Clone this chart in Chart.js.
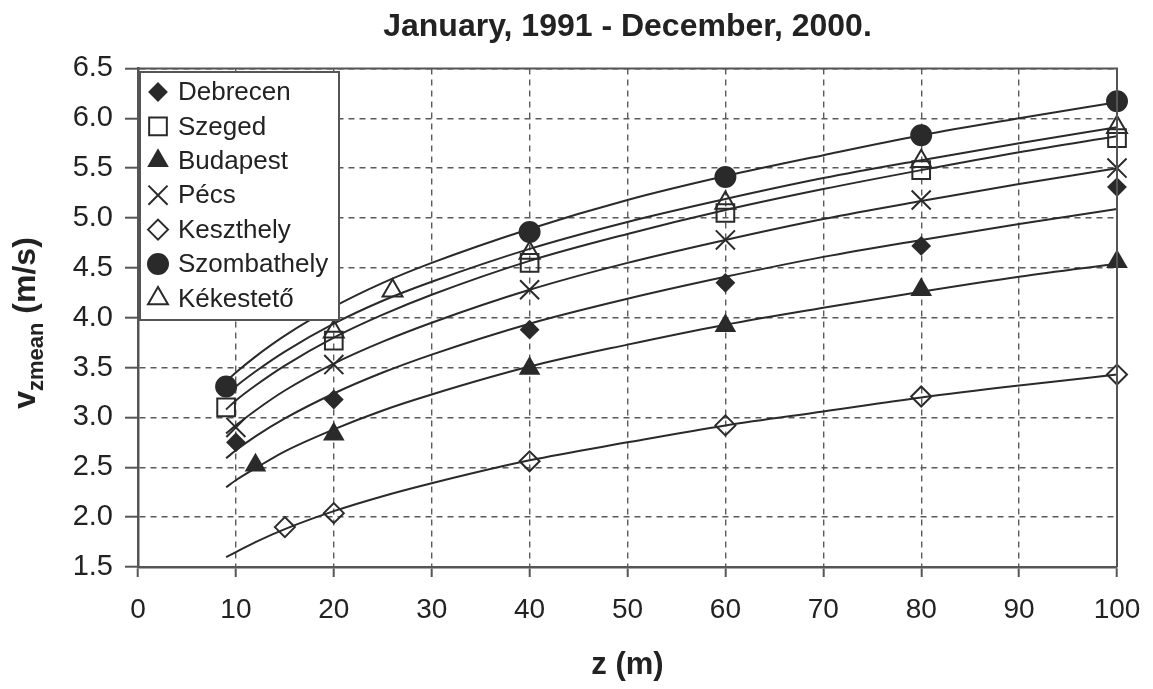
<!DOCTYPE html>
<html>
<head>
<meta charset="utf-8">
<script src="https://cdn.jsdelivr.net/npm/chart.js@4.4.1/dist/chart.umd.min.js"></script>
<style>
  html, body { margin: 0; padding: 0; background: #fff; }
</style>
</head>
<body>
<canvas id="windChart" width="1153" height="689"></canvas>
<script>
// mért szélsebességek (m/s) a magasság (m) szerint
const stations = ['Debrecen', 'Szeged', 'Budapest', 'Pécs', 'Keszthely', 'Szombathely', 'Kékestető'];

const zDebrecen = [10, 20, 40, 60, 80, 100];
const vDebrecen = [2.75, 3.18, 3.88, 4.35, 4.72, 5.31];
const zSzeged = [9, 20, 40, 60, 80, 100];
const vSzeged = [3.10, 3.77, 4.55, 5.05, 5.48, 5.80];
const zBudapest = [12, 20, 40, 60, 80, 100];
const vBudapest = [2.52, 2.83, 3.49, 3.92, 4.28, 4.56];
const zPecs = [10, 20, 40, 60, 80, 100];
const vPecs = [2.90, 3.53, 4.28, 4.78, 5.18, 5.50];
const zKeszthely = [15, 20, 40, 60, 80, 100];
const vKeszthely = [1.90, 2.04, 2.56, 2.92, 3.21, 3.43];
const zSzombathely = [9, 40, 60, 80, 100];
const vSzombathely = [3.31, 4.86, 5.41, 5.83, 6.17];
const zKekesteto = [20, 26, 40, 60, 80, 100];
const vKekesteto = [3.86, 4.27, 4.65, 5.15, 5.57, 5.91];

// illesztett görbék
const fitZ = [9, 10, 12, 15, 20, 25, 30, 40, 50, 60, 70, 80, 90, 100];
const fitDebrecen = [2.59, 2.67, 2.81, 2.99, 3.24, 3.45, 3.63, 3.94, 4.19, 4.41, 4.61, 4.78, 4.94, 5.09];
const fitSzeged = [3.08, 3.17, 3.32, 3.52, 3.80, 4.03, 4.23, 4.57, 4.84, 5.08, 5.29, 5.48, 5.66, 5.82];
const fitBudapest = [2.30, 2.37, 2.49, 2.66, 2.88, 3.07, 3.23, 3.51, 3.73, 3.93, 4.10, 4.26, 4.41, 4.54];
const fitPecs = [2.84, 2.92, 3.07, 3.27, 3.54, 3.76, 3.95, 4.28, 4.55, 4.78, 4.99, 5.17, 5.34, 5.50];
const fitKeszthely = [1.60, 1.65, 1.75, 1.88, 2.06, 2.21, 2.34, 2.57, 2.75, 2.92, 3.06, 3.20, 3.32, 3.43];
const fitSzombathely = [3.36, 3.45, 3.61, 3.82, 4.11, 4.35, 4.55, 4.89, 5.18, 5.42, 5.63, 5.83, 6.00, 6.16];
const fitKekesteto = [3.22, 3.31, 3.46, 3.66, 3.94, 4.17, 4.36, 4.69, 4.96, 5.19, 5.40, 5.58, 5.75, 5.91];

const INK = '#2a2a2a';
const FONT = '"Liberation Sans", Arial, Helvetica, sans-serif';

function pts(xs, ys) {
    return xs.map((x, i) => ({ x: x, y: ys[i] }));
}

// jelölők: [z, v, pointStyle, sugár, kitöltött?]
const markerDefs = [
    [zDebrecen, vDebrecen, 'rectRot', 8.5, true],
    [zSzeged, vSzeged, 'rect', 12.5, false],
    [zBudapest, vBudapest, 'triangle', 10.5, true],
    [zPecs, vPecs, 'crossRot', 13.5, false],
    [zKeszthely, vKeszthely, 'rectRot', 10, false],
    [zSzombathely, vSzombathely, 'circle', 10, true],
    [zKekesteto, vKekesteto, 'triangle', 11.5, false]
];
const fits = [fitDebrecen, fitSzeged, fitBudapest, fitPecs, fitKeszthely, fitSzombathely, fitKekesteto];

const datasets = [];
fits.forEach((f, i) => {
    datasets.push({
        label: stations[i] + ' fit',
        data: pts(fitZ, f),
        showLine: true,
        borderColor: INK,
        borderWidth: 2,
        pointRadius: 0,
        cubicInterpolationMode: 'monotone',
        order: 2
    });
});
markerDefs.forEach((m, i) => {
    datasets.push({
        label: stations[i],
        data: pts(m[0], m[1]),
        showLine: false,
        pointStyle: m[2],
        pointRadius: m[3],
        pointBorderColor: INK,
        pointBackgroundColor: m[4] ? INK : 'rgba(0,0,0,0)',
        pointBorderWidth: 2,
        clip: false,
        order: 1
    });
});

// keret felül és jobbra
const frame = {
    id: 'frame',
    afterDatasetsDraw(chart) {
        const { ctx, chartArea: a } = chart;
        ctx.save();
        ctx.strokeStyle = '#555';
        ctx.lineWidth = 2;
        ctx.beginPath();
        ctx.moveTo(a.left, a.top);
        ctx.lineTo(a.right, a.top);
        ctx.lineTo(a.right, a.bottom);
        ctx.stroke();
        ctx.restore();
    }
};

// jelmagyarázat a rajzterületen belül
const boxLegend = {
    id: 'boxLegend',
    afterDatasetsDraw(chart) {
        const ctx = chart.ctx;
        const x0 = 140, y0 = 72, w = 199, h = 248;
        ctx.save();
        ctx.fillStyle = '#fff';
        ctx.fillRect(x0, y0, w, h);
        ctx.strokeStyle = '#555';
        ctx.lineWidth = 2;
        ctx.strokeRect(x0, y0, w, h);
        ctx.font = '26px ' + FONT;
        ctx.textBaseline = 'middle';
        markerDefs.forEach((m, i) => {
            const y = 92 + i * 34.4;
            ctx.strokeStyle = INK;
            ctx.fillStyle = m[4] ? INK : 'rgba(0,0,0,0)';
            ctx.lineWidth = 2;
            Chart.helpers.drawPoint(ctx, { pointStyle: m[2], radius: m[3], rotation: 0, borderWidth: 2 }, 158, y);
            ctx.fillStyle = '#222';
            ctx.fillText(stations[i], 178, y + 1);
        });
        ctx.restore();
    }
};

// függőleges tengelyfelirat alsó indexszel
const yTitle = {
    id: 'yTitle',
    afterDraw(chart) {
        const ctx = chart.ctx;
        const big = 'bold 32px ' + FONT;
        const small = 'bold 22px ' + FONT;
        ctx.save();
        ctx.fillStyle = '#222';
        ctx.textBaseline = 'alphabetic';
        ctx.font = big;
        const wv = ctx.measureText('v').width;
        const wu = ctx.measureText(' (m/s)').width;
        ctx.font = small;
        const ws = ctx.measureText('zmean').width;
        ctx.translate(35, 323);
        ctx.rotate(-Math.PI / 2);
        let x = -(wv + ws + wu) / 2;
        ctx.font = big;
        ctx.fillText('v', x, 0);
        x += wv;
        ctx.font = small;
        ctx.fillText('zmean', x, 8);
        x += ws;
        ctx.font = big;
        ctx.fillText(' (m/s)', x, 0);
        ctx.restore();
    }
};

const ctx = document.getElementById('windChart').getContext('2d');
new Chart(ctx, {
    type: 'scatter',
    data: { datasets: datasets },
    options: {
        responsive: false,
        animation: false,
        events: [],
        layout: { padding: { left: 0, right: 36, top: 0, bottom: 0 } },
        scales: {
            x: {
                type: 'linear',
                min: 0,
                max: 100,
                afterFit(scale) {
                    scale.height = 122;
                    scale.paddingRight = 10;
                    scale.paddingLeft = 0;
                },
                ticks: { stepSize: 10, color: '#222', font: { family: FONT, size: 28 }, padding: 16, maxRotation: 0 },
                grid: { color: '#5a5a5a', lineWidth: 1.4, tickLength: 10, tickColor: '#555', tickWidth: 2, tickBorderDash: [] },
                border: { display: true, color: '#555', width: 2.5, dash: [6, 5] },
                title: { display: true, text: 'z (m)', color: '#222', font: { family: FONT, size: 31, weight: 'bold' }, padding: { top: 0, bottom: 5 } }
            },
            y: {
                min: 1.5,
                max: 6.5,
                afterFit(scale) { scale.width = 138; },
                ticks: { stepSize: 0.5, color: '#222', font: { family: FONT, size: 29 }, padding: 12,
                    callback: v => v.toFixed(1) },
                grid: { color: '#5a5a5a', lineWidth: 1.4, tickLength: 13, tickColor: '#555', tickWidth: 2, tickBorderDash: [] },
                border: { display: true, color: '#555', width: 2.5, dash: [6, 5] }
            }
        },
        plugins: {
            legend: { display: false },
            tooltip: { enabled: false },
            title: {
                display: true,
                text: 'January, 1991 - December, 2000.',
                color: '#222',
                fullSize: false,
                font: { family: FONT, size: 32, weight: 'bold' },
                padding: { top: 8, bottom: 22 }
            }
        }
    },
    plugins: [frame, boxLegend, yTitle]
});
</script>
</body>
</html>
